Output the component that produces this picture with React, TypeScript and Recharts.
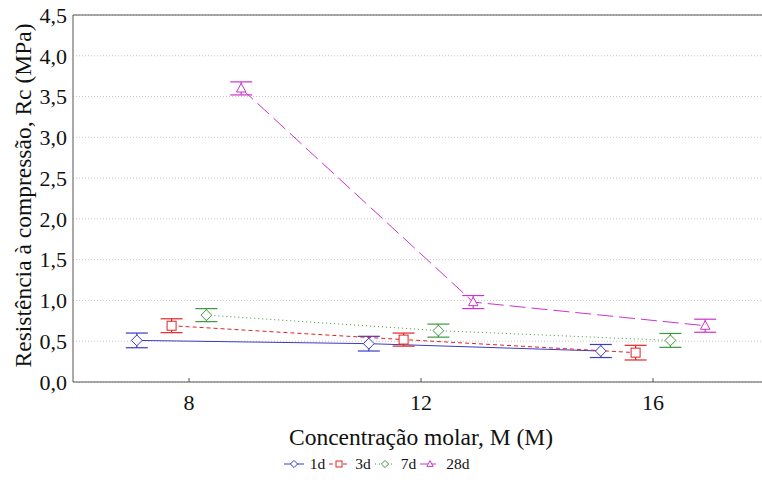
import { LineChart, Line, XAxis, YAxis, CartesianGrid, ErrorBar, ReferenceLine, Legend } from 'recharts';

// molar concentration (M) and the four curing ages
const concentrations = [8, 12, 16];
const ages = ['1d', '3d', '7d', '28d'];

// compressive strength Rc (MPa)
const rc1d = [0.51, 0.47, 0.38];
const rc3d = [0.69, 0.52, 0.36];
const rc7d = [0.82, 0.63, 0.51];
const rc28d = [3.6, 0.98, 0.69];

// error bar half-widths (MPa)
const err1d = [0.09, 0.09, 0.08];
const err3d = [0.085, 0.08, 0.09];
const err7d = [0.08, 0.08, 0.085];
const err28d = [0.08, 0.08, 0.08];

const yTicks = [0, 0.5, 1, 1.5, 2, 2.5, 3, 3.5, 4, 4.5];
const xTicks = [8, 12, 16];

// horizontal shift so the groups don't overlap
const shift = [-0.9, -0.3, 0.3, 0.9];

const FONT = "'Liberation Serif', Tinos, 'Times New Roman', 'DejaVu Serif', serif";

type Style = { color: string; dash?: string; shape: 'diamond' | 'square' | 'triangle' };
const styles: Style[] = [
  { color: '#3b3bc4', shape: 'diamond' },
  { color: '#e02424', dash: '4 3', shape: 'square' },
  { color: '#3c983c', dash: '1 3', shape: 'diamond' },
  { color: '#cc33cc', dash: '16 6', shape: 'triangle' },
];

const build = (vals: number[], errs: number[], i: number) =>
  concentrations.map((c, k) => ({ x: c + shift[i], rc: vals[k], err: errs[k] }));

const series = [
  build(rc1d, err1d, 0),
  build(rc3d, err3d, 1),
  build(rc7d, err7d, 2),
  build(rc28d, err28d, 3),
];

function Marker({ cx, cy, s, r }: { cx: number; cy: number; s: Style; r: number }) {
  if (s.shape === 'square') {
    return <rect x={cx - r} y={cy - r} width={r * 2} height={r * 2} fill="#fff" stroke={s.color} strokeWidth={1} />;
  }
  if (s.shape === 'triangle') {
    return (
      <polygon
        points={`${cx},${cy - r * 1.1} ${cx + r * 1.05},${cy + r * 0.8} ${cx - r * 1.05},${cy + r * 0.8}`}
        fill="#fff"
        stroke={s.color}
        strokeWidth={1}
      />
    );
  }
  return (
    <polygon
      points={`${cx},${cy - r * 1.2} ${cx + r * 1.2},${cy} ${cx},${cy + r * 1.2} ${cx - r * 1.2},${cy}`}
      fill="#fff"
      stroke={s.color}
      strokeWidth={1}
    />
  );
}

const fmt = (v: number) => v.toFixed(1).replace('.', ',');

function LegendBox() {
  return (
    <div style={{ display: 'flex', justifyContent: 'center', height: 20, alignItems: 'center', paddingRight: 12, fontFamily: FONT, fontSize: 15.5, color: '#111' }}>
      {ages.map((a, i) => (
        <div key={a} style={{ display: 'flex', alignItems: 'center', marginRight: 4 }}>
          <svg width={20} height={12}>
            <line x1={0} y1={6} x2={20} y2={6} stroke={styles[i].color} strokeDasharray={styles[i].dash} />
            <Marker cx={10} cy={6} s={styles[i]} r={3} />
          </svg>
          <span style={{ marginLeft: 6 }}>{a}</span>
        </div>
      ))}
    </div>
  );
}

export default function App() {
  return (
    <div style={{ position: 'absolute', left: 0, top: 0, width: 762, height: 480, overflow: 'hidden', background: '#fff', fontFamily: FONT }}>
      <LineChart width={780} height={480} margin={{ top: 15, right: 11, left: 0, bottom: 6 }} style={{ fontFamily: FONT }}>
        <CartesianGrid vertical={false} stroke="#c8c8c8" strokeDasharray="1 2" />
        <XAxis
          type="number"
          dataKey="x"
          domain={[6, 18]}
          ticks={xTicks}
          allowDataOverflow
          height={72}
          stroke="#555"
          tickSize={-4}
          tickMargin={16}
          tick={{ fill: '#111', fontSize: 22, fontFamily: FONT }}
          label={{ value: 'Concentração molar, M (M)', position: 'insideBottom', offset: 9, fill: '#111', fontSize: 23.5, fontFamily: FONT }}
        />
        <YAxis
          type="number"
          domain={[0, 4.5]}
          ticks={yTicks}
          width={73}
          stroke="#555"
          tickLine={false}
          tickSize={0}
          tickMargin={6}
          tickFormatter={fmt}
          tick={{ fill: '#111', fontSize: 22, fontFamily: FONT }}
          label={{ value: 'Resistência à compressão, Rc (MPa)', angle: -90, position: 'center', dx: -14, dy: -3, fill: '#111', fontSize: 23.5, fontFamily: FONT }}
        />
        <ReferenceLine y={4.5} stroke="#555" />
        <Legend verticalAlign="bottom" content={() => <LegendBox />} />
        {series.map((d, i) => (
          <Line
            key={ages[i]}
            data={d}
            dataKey="rc"
            name={ages[i]}
            type="linear"
            stroke={styles[i].color}
            strokeWidth={1}
            strokeDasharray={styles[i].dash}
            isAnimationActive={false}
            dot={(p: any) => <Marker key={p.index} cx={p.cx} cy={p.cy} s={styles[i]} r={4.5} />}
            activeDot={false}
          >
            <ErrorBar dataKey="err" direction="y" width={11} stroke={styles[i].color} strokeWidth={1.2} />
          </Line>
        ))}
      </LineChart>
    </div>
  );
}
